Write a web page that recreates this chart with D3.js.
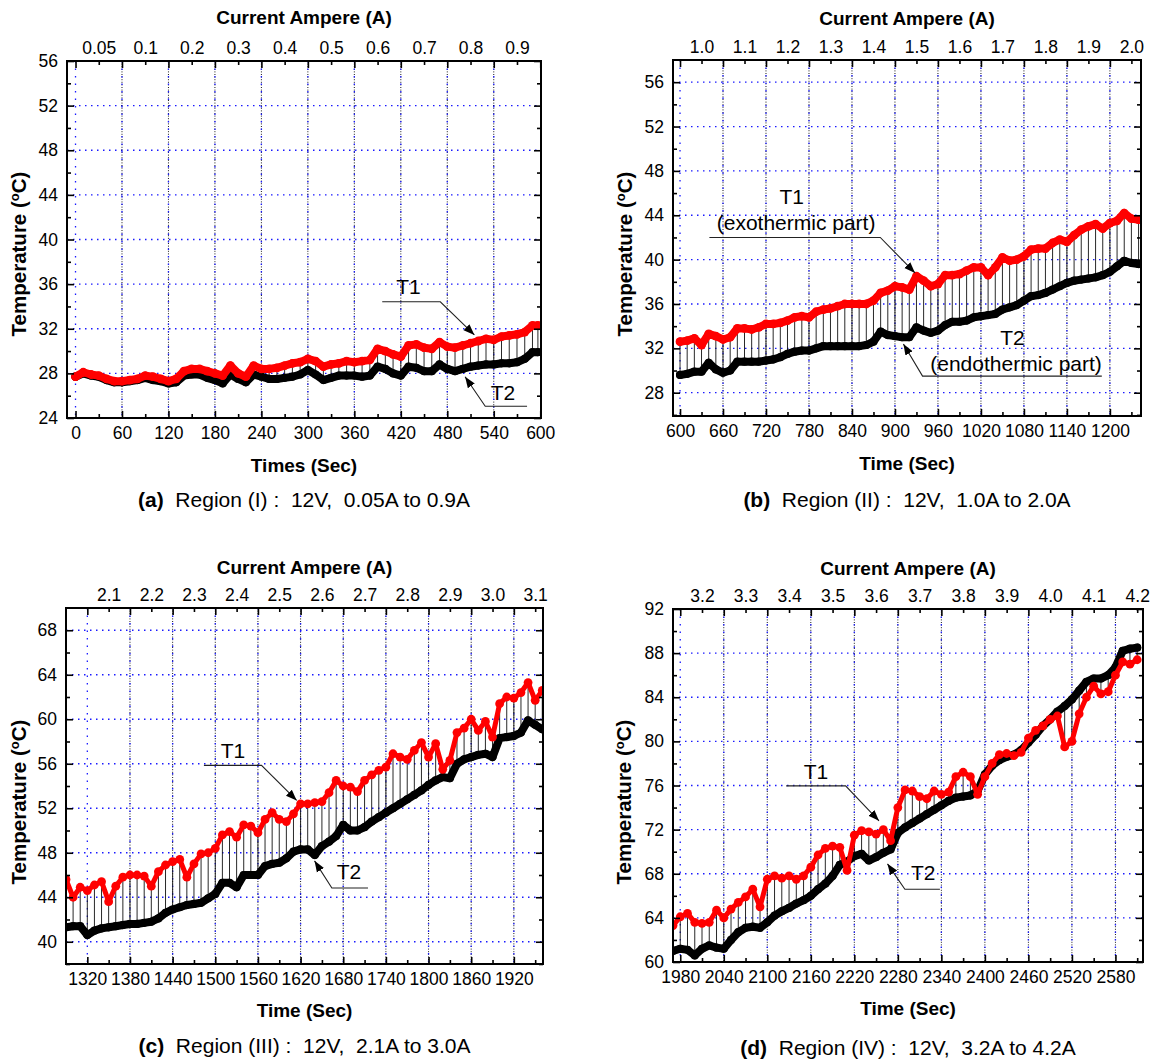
<!DOCTYPE html>
<html><head><meta charset="utf-8">
<script src="https://cdn.jsdelivr.net/npm/d3@7"></script>
<style>
body{margin:0;background:#fff;}
svg text{font-family:"Liberation Sans",Arial,Helvetica,sans-serif;fill:#000;}
</style></head><body>
<svg id="chart" width="1152" height="1064"></svg>
<script>
// ---------------- DATA ----------------
// Panel (a) Region I
const aTime = [0,10,20,30,40,50,60,70,80,90,100,110,120,130,140,150,160,170,180,190,200,210,220,230,240,250,260,270,280,290,300,310,320,330,340,350,360,370,380,390,400,410,420,430,440,450,460,470,480,490,500,510,520,530,540,550,560,570,580,590,597];
const aT1 = [27.7,28.1,27.9,27.8,27.5,27.3,27.3,27.4,27.5,27.8,27.7,27.5,27.3,27.5,28.2,28.4,28.4,28.2,28.0,27.8,28.7,28.0,27.7,28.7,28.4,28.4,28.5,28.7,28.9,29.0,29.3,29.1,28.6,28.8,28.9,29.1,29.0,29.1,29.2,30.2,30.0,29.7,29.5,30.5,30.6,30.3,30.2,30.8,30.4,30.3,30.5,30.7,30.9,31.1,31.0,31.3,31.4,31.5,31.7,32.3,32.3];
const aT2 = [27.7,28.0,27.8,27.7,27.4,27.2,27.2,27.3,27.4,27.6,27.4,27.3,27.1,27.2,27.8,27.9,27.9,27.6,27.4,27.1,27.9,27.5,27.2,27.9,27.7,27.5,27.5,27.6,27.7,27.9,28.3,27.9,27.4,27.6,27.8,27.8,27.8,27.7,27.8,28.6,28.4,28.0,27.8,28.6,28.5,28.2,28.2,28.8,28.4,28.2,28.4,28.6,28.7,28.8,28.8,28.9,28.9,29.0,29.3,29.9,29.9];
const aCurrent = ["0.05","0.1","0.2","0.3","0.4","0.5","0.6","0.7","0.8","0.9"];
const aCurrentAt = [30,90,150,210,270,330,390,450,510,570];
const aTimeTicks = [0,60,120,180,240,300,360,420,480,540,600];
const aTempTicks = [24,28,32,36,40,44,48,52,56];

// Panel (b) Region II
const bTime = [600,610,620,630,640,650,660,670,680,690,700,710,720,730,740,750,760,770,780,790,800,810,820,830,840,850,860,870,880,890,900,910,920,930,940,950,960,970,980,990,1000,1010,1020,1030,1040,1050,1060,1070,1080,1090,1100,1110,1120,1130,1140,1150,1160,1170,1180,1190,1200,1210,1220,1230,1240];
const bT1 = [32.6,32.7,32.9,32.3,33.3,33.1,32.8,33.0,33.8,33.8,33.7,33.9,34.2,34.2,34.3,34.5,34.8,34.9,34.8,35.3,35.5,35.6,35.8,36.0,36.0,36.0,36.0,36.3,37.0,37.2,37.6,37.5,37.3,38.5,38.1,37.6,37.8,38.6,38.6,38.7,39.0,39.3,39.3,38.6,39.3,40.2,39.9,40.0,40.3,40.9,41.0,41.0,41.5,41.8,41.6,42.2,42.7,43.0,43.2,42.8,43.3,43.5,44.2,43.7,43.6];
const bT2 = [29.6,29.7,29.9,29.9,30.7,30.1,29.8,30.0,30.8,30.8,30.8,30.8,30.9,31.0,31.2,31.5,31.7,31.8,31.8,32.0,32.2,32.2,32.2,32.2,32.2,32.2,32.3,32.6,33.5,33.2,33.1,33.0,33.0,33.9,33.6,33.4,33.6,34.1,34.4,34.4,34.5,34.8,34.9,35.0,35.1,35.5,35.7,35.9,36.3,36.7,36.8,37.0,37.3,37.6,37.9,38.1,38.2,38.3,38.4,38.6,38.9,39.4,39.9,39.7,39.6];
const bCurrent = ["1.0","1.1","1.2","1.3","1.4","1.5","1.6","1.7","1.8","1.9","2.0"];
const bCurrentAt = [630,690,750,810,870,930,990,1050,1110,1170,1230];
const bTimeTicks = [600,660,720,780,840,900,960,1020,1080,1140,1200];
const bTempTicks = [28,32,36,40,44,48,52,56];

// Panel (c) Region III
const cTime = [1290,1300,1310,1320,1330,1340,1350,1360,1370,1380,1390,1400,1410,1420,1430,1440,1450,1460,1470,1480,1490,1500,1510,1520,1530,1540,1550,1560,1570,1580,1590,1600,1610,1620,1630,1640,1650,1660,1670,1680,1690,1700,1710,1720,1730,1740,1750,1760,1770,1780,1790,1800,1810,1820,1830,1840,1850,1860,1870,1880,1890,1900,1910,1920,1930,1940,1950,1960];
const cT1 = [45.6,44.0,44.9,44.6,45.1,45.4,43.6,45.0,45.8,46.0,46.0,45.9,45.0,46.3,46.9,47.2,47.4,45.8,47.0,47.9,48.0,48.4,49.6,49.9,49.4,50.5,50.4,49.8,51.0,51.6,51.0,50.8,51.5,52.4,52.4,52.5,52.6,53.4,54.5,54.0,53.9,53.5,54.5,55.0,55.4,55.7,56.9,56.6,56.4,57.2,57.9,56.6,57.8,55.5,56.3,58.8,59.2,60.0,59.0,59.8,58.4,61.4,62.0,61.9,62.4,63.3,61.7,62.6];
const cT2 = [41.3,41.4,41.4,40.6,41.0,41.2,41.3,41.4,41.5,41.6,41.6,41.7,41.8,42.1,42.6,42.9,43.1,43.3,43.4,43.5,43.9,44.3,45.3,45.3,44.9,46.0,46.0,46.0,46.8,47.0,47.1,47.5,48.1,48.3,48.3,47.8,48.6,49.0,49.5,50.5,50.0,50.0,50.3,50.8,51.2,51.6,52.0,52.4,52.8,53.2,53.6,54.1,54.5,54.8,54.7,56.0,56.4,56.6,56.8,56.9,56.6,58.3,58.4,58.5,58.8,59.9,59.5,59.1];
const cCurrent = ["2.1","2.2","2.3","2.4","2.5","2.6","2.7","2.8","2.9","3.0","3.1"];
const cCurrentAt = [1350,1410,1470,1530,1590,1650,1710,1770,1830,1890,1950];
const cTimeTicks = [1320,1380,1440,1500,1560,1620,1680,1740,1800,1860,1920];
const cTempTicks = [40,44,48,52,56,60,64,68];

// Panel (d) Region IV
const dTime = [1970,1980,1990,2000,2010,2020,2030,2040,2050,2060,2070,2080,2090,2100,2110,2120,2130,2140,2150,2160,2170,2180,2190,2200,2210,2220,2230,2240,2250,2260,2270,2280,2290,2300,2310,2320,2330,2340,2350,2360,2370,2380,2390,2400,2410,2420,2430,2440,2450,2460,2470,2480,2490,2500,2510,2520,2530,2540,2550,2560,2570,2580,2590,2600,2610];
const dT1 = [63.3,64.1,64.4,63.6,63.5,63.6,64.7,64.0,64.8,65.4,65.9,66.6,65.0,67.5,67.8,67.6,67.8,67.5,67.8,68.6,69.7,70.3,70.5,70.4,68.3,71.5,71.9,71.8,71.6,72.0,71.0,74.0,75.6,75.5,75.0,74.8,75.5,75.2,75.4,76.8,77.2,76.8,75.2,76.8,78.0,78.8,78.9,78.7,79.0,80.3,81.0,81.4,82.0,82.3,79.5,80.0,82.5,84.0,85.0,84.3,84.5,86.0,87.2,87.0,87.4];
const dT2 = [61.0,61.2,61.1,60.6,61.2,61.5,61.3,61.2,62.0,62.7,63.1,63.2,63.1,63.6,64.2,64.6,64.9,65.3,65.6,66.0,66.6,67.1,67.8,68.8,69.1,69.6,69.8,69.2,69.5,69.9,70.2,71.7,72.2,72.6,73.0,73.4,73.8,74.2,74.6,74.9,75.0,75.1,75.5,77.0,77.8,78.3,78.6,78.8,79.2,79.9,80.6,81.4,82.0,82.7,83.2,83.8,84.6,85.4,85.7,85.7,86.0,86.7,88.2,88.4,88.5];
const dCurrent = ["3.2","3.3","3.4","3.5","3.6","3.7","3.8","3.9","4.0","4.1","4.2"];
const dCurrentAt = [2010,2070,2130,2190,2250,2310,2370,2430,2490,2550,2610];
const dTimeTicks = [1980,2040,2100,2160,2220,2280,2340,2400,2460,2520,2580];
const dTempTicks = [60,64,68,72,76,80,84,88,92];

// Annotations (time, temperature)
const aNotes = [
  {lines:["T1"], at:[[430,35.8]], path:[[396,34.42],[471,34.42],[515,31.45]]},
  {lines:["T2"], at:[[552,26.25]], path:[[583,25.05],[529,25.05],[503,27.7]]}
];
const bNotes = [
  {lines:["T1","(exothermic part)"], at:[[756,45.7],[762,43.35]], path:[[641,42.0],[879.5,42.0],[928,38.8]]},
  {lines:["T2","(endothermic part)"], at:[[1064,33.0],[1069,30.6]], path:[[1188.7,29.5],[938.5,29.5],[911.8,32.4]]}
];
const cNotes = [
  {lines:["T1"], at:[[1525,57.2]], path:[[1484,55.85],[1565,55.85],[1614.5,52.7]]},
  {lines:["T2"], at:[[1688,46.3]], path:[[1714.8,44.83],[1664,44.83],[1639.6,47.27]]}
];
const dNotes = [
  {lines:["T1"], at:[[2167,77.3]], path:[[2126,75.97],[2208,75.97],[2254,72.8]]},
  {lines:["T2"], at:[[2315,68.1]], path:[[2338,66.6],[2289.7,66.6],[2265.7,68.9]]}
];

// ---------------- LAYOUT ----------------
const panels = [
  {key:"a", time:aTime, t1:aT1, t2:aT2, cur:aCurrent, curAt:aCurrentAt, xt:aTimeTicks, yt:aTempTicks, notes:aNotes,
   xd:[-11,601], yd:[24,56], box:{l:67,r:541,t:61,b:418}, xTitle:"Times (Sec)", redW:8,
   topTitleY:17, xTitleY:465, capY:500, yTitleX:19, yTitleY:254,
   cap:["(a)","  Region (I) :  12V,  0.05A to 0.9A"]},
  {key:"b", time:bTime, t1:bT1, t2:bT2, cur:bCurrent, curAt:bCurrentAt, xt:bTimeTicks, yt:bTempTicks, notes:bNotes,
   xd:[590.2,1243.4], yd:[25.9,58], box:{l:673,r:1141,t:60,b:416}, xTitle:"Time (Sec)", redW:8,
   topTitleY:18, xTitleY:463, capY:500, yTitleX:625, yTitleY:254,
   cap:["(b)","  Region (II) :  12V,  1.0A to 2.0A"]},
  {key:"c", time:cTime, t1:cT1, t2:cT2, cur:cCurrent, curAt:cCurrentAt, xt:cTimeTicks, yt:cTempTicks, notes:cNotes,
   xd:[1290,1961], yd:[38,70], box:{l:66,r:543,t:608,b:964}, xTitle:"Time (Sec)", redW:5,
   topTitleY:567, xTitleY:1010, capY:1046, yTitleX:19, yTitleY:802,
   cap:["(c)","  Region (III) :  12V,  2.1A to 3.0A"]},
  {key:"d", time:dTime, t1:dT1, t2:dT2, cur:dCurrent, curAt:dCurrentAt, xt:dTimeTicks, yt:dTempTicks, notes:dNotes,
   xd:[1970,2618], yd:[60,92], box:{l:673,r:1143,t:609,b:962}, xTitle:"Time (Sec)", redW:5,
   topTitleY:568, xTitleY:1008, capY:1048, yTitleX:624, yTitleY:802,
   cap:["(d)","  Region (IV) :  12V,  3.2A to 4.2A"]}
];

const svg = d3.select("#chart");
const defs = svg.append("defs");
defs.append("marker").attr("id","arrow").attr("viewBox","0 0 10 10").attr("refX",10).attr("refY",5)
  .attr("markerWidth",11).attr("markerHeight",11).attr("markerUnits","userSpaceOnUse").attr("orient","auto")
  .append("path").attr("d","M0,1.2 L10,5 L0,8.8 Z").attr("fill","#000");

const TICK_FS = 17.5, TITLE_FS = 19;

panels.forEach(p => {
  const {l,r,t,b} = p.box;
  const x = d3.scaleLinear().domain(p.xd).range([l,r]);
  const y = d3.scaleLinear().domain(p.yd).range([b,t]);
  const g = svg.append("g").attr("class","panel-"+p.key);

  defs.append("clipPath").attr("id","clip-"+p.key).append("rect")
    .attr("x",l).attr("y",t).attr("width",r-l).attr("height",b-t);

  // grids
  const grid = g.append("g");
  p.yt.filter(v => y(v) > t+1 && y(v) < b-1).forEach(v => {
    grid.append("line").attr("x1",l).attr("x2",r).attr("y1",y(v)).attr("y2",y(v))
      .attr("stroke","#1a1aff").attr("stroke-width",1.3).attr("stroke-dasharray","1.5,4.5");
  });
  p.xt.filter(v => x(v) > l+1 && x(v) < r-1).forEach((v,i) => {
    if (i > 0) grid.append("line").attr("x1",x(v)).attr("x2",x(v)).attr("y1",t).attr("y2",b)
      .attr("stroke","#000").attr("stroke-width",0.9).attr("stroke-dasharray","1,1.6");
    grid.append("line").attr("x1",x(v)).attr("x2",x(v)).attr("y1",t).attr("y2",b)
      .attr("stroke","#1a1aff").attr("stroke-width",1.3).attr("stroke-dasharray","1.5,6");
  });

  // data
  const pts = p.time.map((tm,i) => ({tm, a:p.t1[i], c:p.t2[i]}));
  const dg = g.append("g").attr("clip-path","url(#clip-"+p.key+")");
  dg.append("g").selectAll("line").data(pts).join("line")
    .attr("x1",d=>x(d.tm)).attr("x2",d=>x(d.tm)).attr("y1",d=>y(d.a)).attr("y2",d=>y(d.c))
    .attr("stroke","#111").attr("stroke-width",0.9);
  const line2 = d3.line().x(d=>x(d.tm)).y(d=>y(d.c));
  dg.append("path").datum(pts).attr("d",line2).attr("fill","none").attr("stroke","#000")
    .attr("stroke-width",8).attr("stroke-linejoin","round").attr("stroke-linecap","round");
  dg.append("g").selectAll("circle").data(pts).join("circle")
    .attr("cx",d=>x(d.tm)).attr("cy",d=>y(d.c)).attr("r",4.1).attr("fill","#000");
  const line1 = d3.line().x(d=>x(d.tm)).y(d=>y(d.a));
  dg.append("path").datum(pts).attr("d",line1).attr("fill","none").attr("stroke","#ff0000")
    .attr("stroke-width",p.redW).attr("stroke-linejoin","round").attr("stroke-linecap","round");
  dg.append("g").selectAll("circle").data(pts).join("circle")
    .attr("cx",d=>x(d.tm)).attr("cy",d=>y(d.a)).attr("r",4.4).attr("fill","#ff0000");

  // frame
  g.append("rect").attr("x",l).attr("y",t).attr("width",r-l).attr("height",b-t)
    .attr("fill","none").attr("stroke","#000").attr("stroke-width",2);

  // axes
  const minorX = p.xt.map(v=>v+30).filter(v => v < p.xd[1]);
  const minorY = d3.range(Math.ceil(p.yd[0]/2)*2, p.yd[1], 2).filter(v => v % 4 !== 0);
  const styleAxis = sel => { sel.select(".domain").remove(); sel.selectAll("line").attr("stroke","#000").attr("stroke-width",1.6); };
  const fontAxis = sel => sel.selectAll("text").attr("font-size",TICK_FS).attr("font-family",null);

  g.append("g").attr("transform",`translate(0,${b})`)
    .call(d3.axisBottom(x).tickValues(p.xt).tickSize(-7).tickPadding(9).tickFormat(d3.format("d")))
    .call(styleAxis).call(fontAxis);
  g.append("g").attr("transform",`translate(0,${b})`)
    .call(d3.axisBottom(x).tickValues(minorX).tickSize(-4).tickFormat(""))
    .call(styleAxis);
  g.append("g").attr("transform",`translate(0,${t})`)
    .call(d3.axisTop(x).tickValues(p.xt).tickSize(-7).tickFormat(""))
    .call(styleAxis);
  g.append("g").attr("transform",`translate(0,${t})`)
    .call(d3.axisTop(x).tickValues(p.curAt).tickSize(-4).tickPadding(7).tickFormat((d,i)=>p.cur[i]))
    .call(styleAxis).call(fontAxis);
  g.append("g").attr("transform",`translate(${l},0)`)
    .call(d3.axisLeft(y).tickValues(p.yt).tickSize(-7).tickPadding(9).tickFormat(d3.format("d")))
    .call(styleAxis).call(fontAxis);
  g.append("g").attr("transform",`translate(${l},0)`)
    .call(d3.axisLeft(y).tickValues(minorY).tickSize(-4).tickFormat(""))
    .call(styleAxis);
  g.append("g").attr("transform",`translate(${r},0)`)
    .call(d3.axisRight(y).tickValues(p.yt).tickSize(-7).tickFormat(""))
    .call(styleAxis);
  g.append("g").attr("transform",`translate(${r},0)`)
    .call(d3.axisRight(y).tickValues(minorY).tickSize(-4).tickFormat(""))
    .call(styleAxis);

  const cx = (l+r)/2;
  g.append("text").attr("x",cx).attr("y",p.topTitleY).attr("dy","0.35em").attr("text-anchor","middle")
    .attr("font-size",TITLE_FS).attr("font-weight","bold").text("Current Ampere (A)");
  g.append("text").attr("x",cx).attr("y",p.xTitleY).attr("dy","0.35em").attr("text-anchor","middle")
    .attr("font-size",TITLE_FS).attr("font-weight","bold").text(p.xTitle);
  const yt = g.append("text").attr("transform",`translate(${p.yTitleX},${p.yTitleY}) rotate(-90)`)
    .attr("dy","0.35em").attr("text-anchor","middle").attr("font-size",20.5).attr("font-weight","bold");
  yt.append("tspan").text("Temperature (");
  yt.append("tspan").attr("font-size",13).attr("dy",-7.5).text("o");
  yt.append("tspan").attr("dy",7.5).text("C)");

  const cap = g.append("text").attr("x",cx).attr("y",p.capY).attr("dy","0.35em").attr("text-anchor","middle")
    .attr("font-size",21).style("white-space","pre");
  cap.append("tspan").attr("font-weight","bold").text(p.cap[0]);
  cap.append("tspan").text(p.cap[1]);

  // annotations
  p.notes.forEach(n => {
    g.append("path").attr("d", d3.line().x(d=>x(d[0])).y(d=>y(d[1]))(n.path))
      .attr("fill","none").attr("stroke","#222").attr("stroke-width",1.1).attr("marker-end","url(#arrow)");
    n.lines.forEach((s,i) => {
      g.append("text").attr("x",x(n.at[i][0])).attr("y",y(n.at[i][1])).attr("dy","0.35em")
        .attr("text-anchor","middle").attr("font-size",21).text(s);
    });
  });
});
</script>
</body></html>
